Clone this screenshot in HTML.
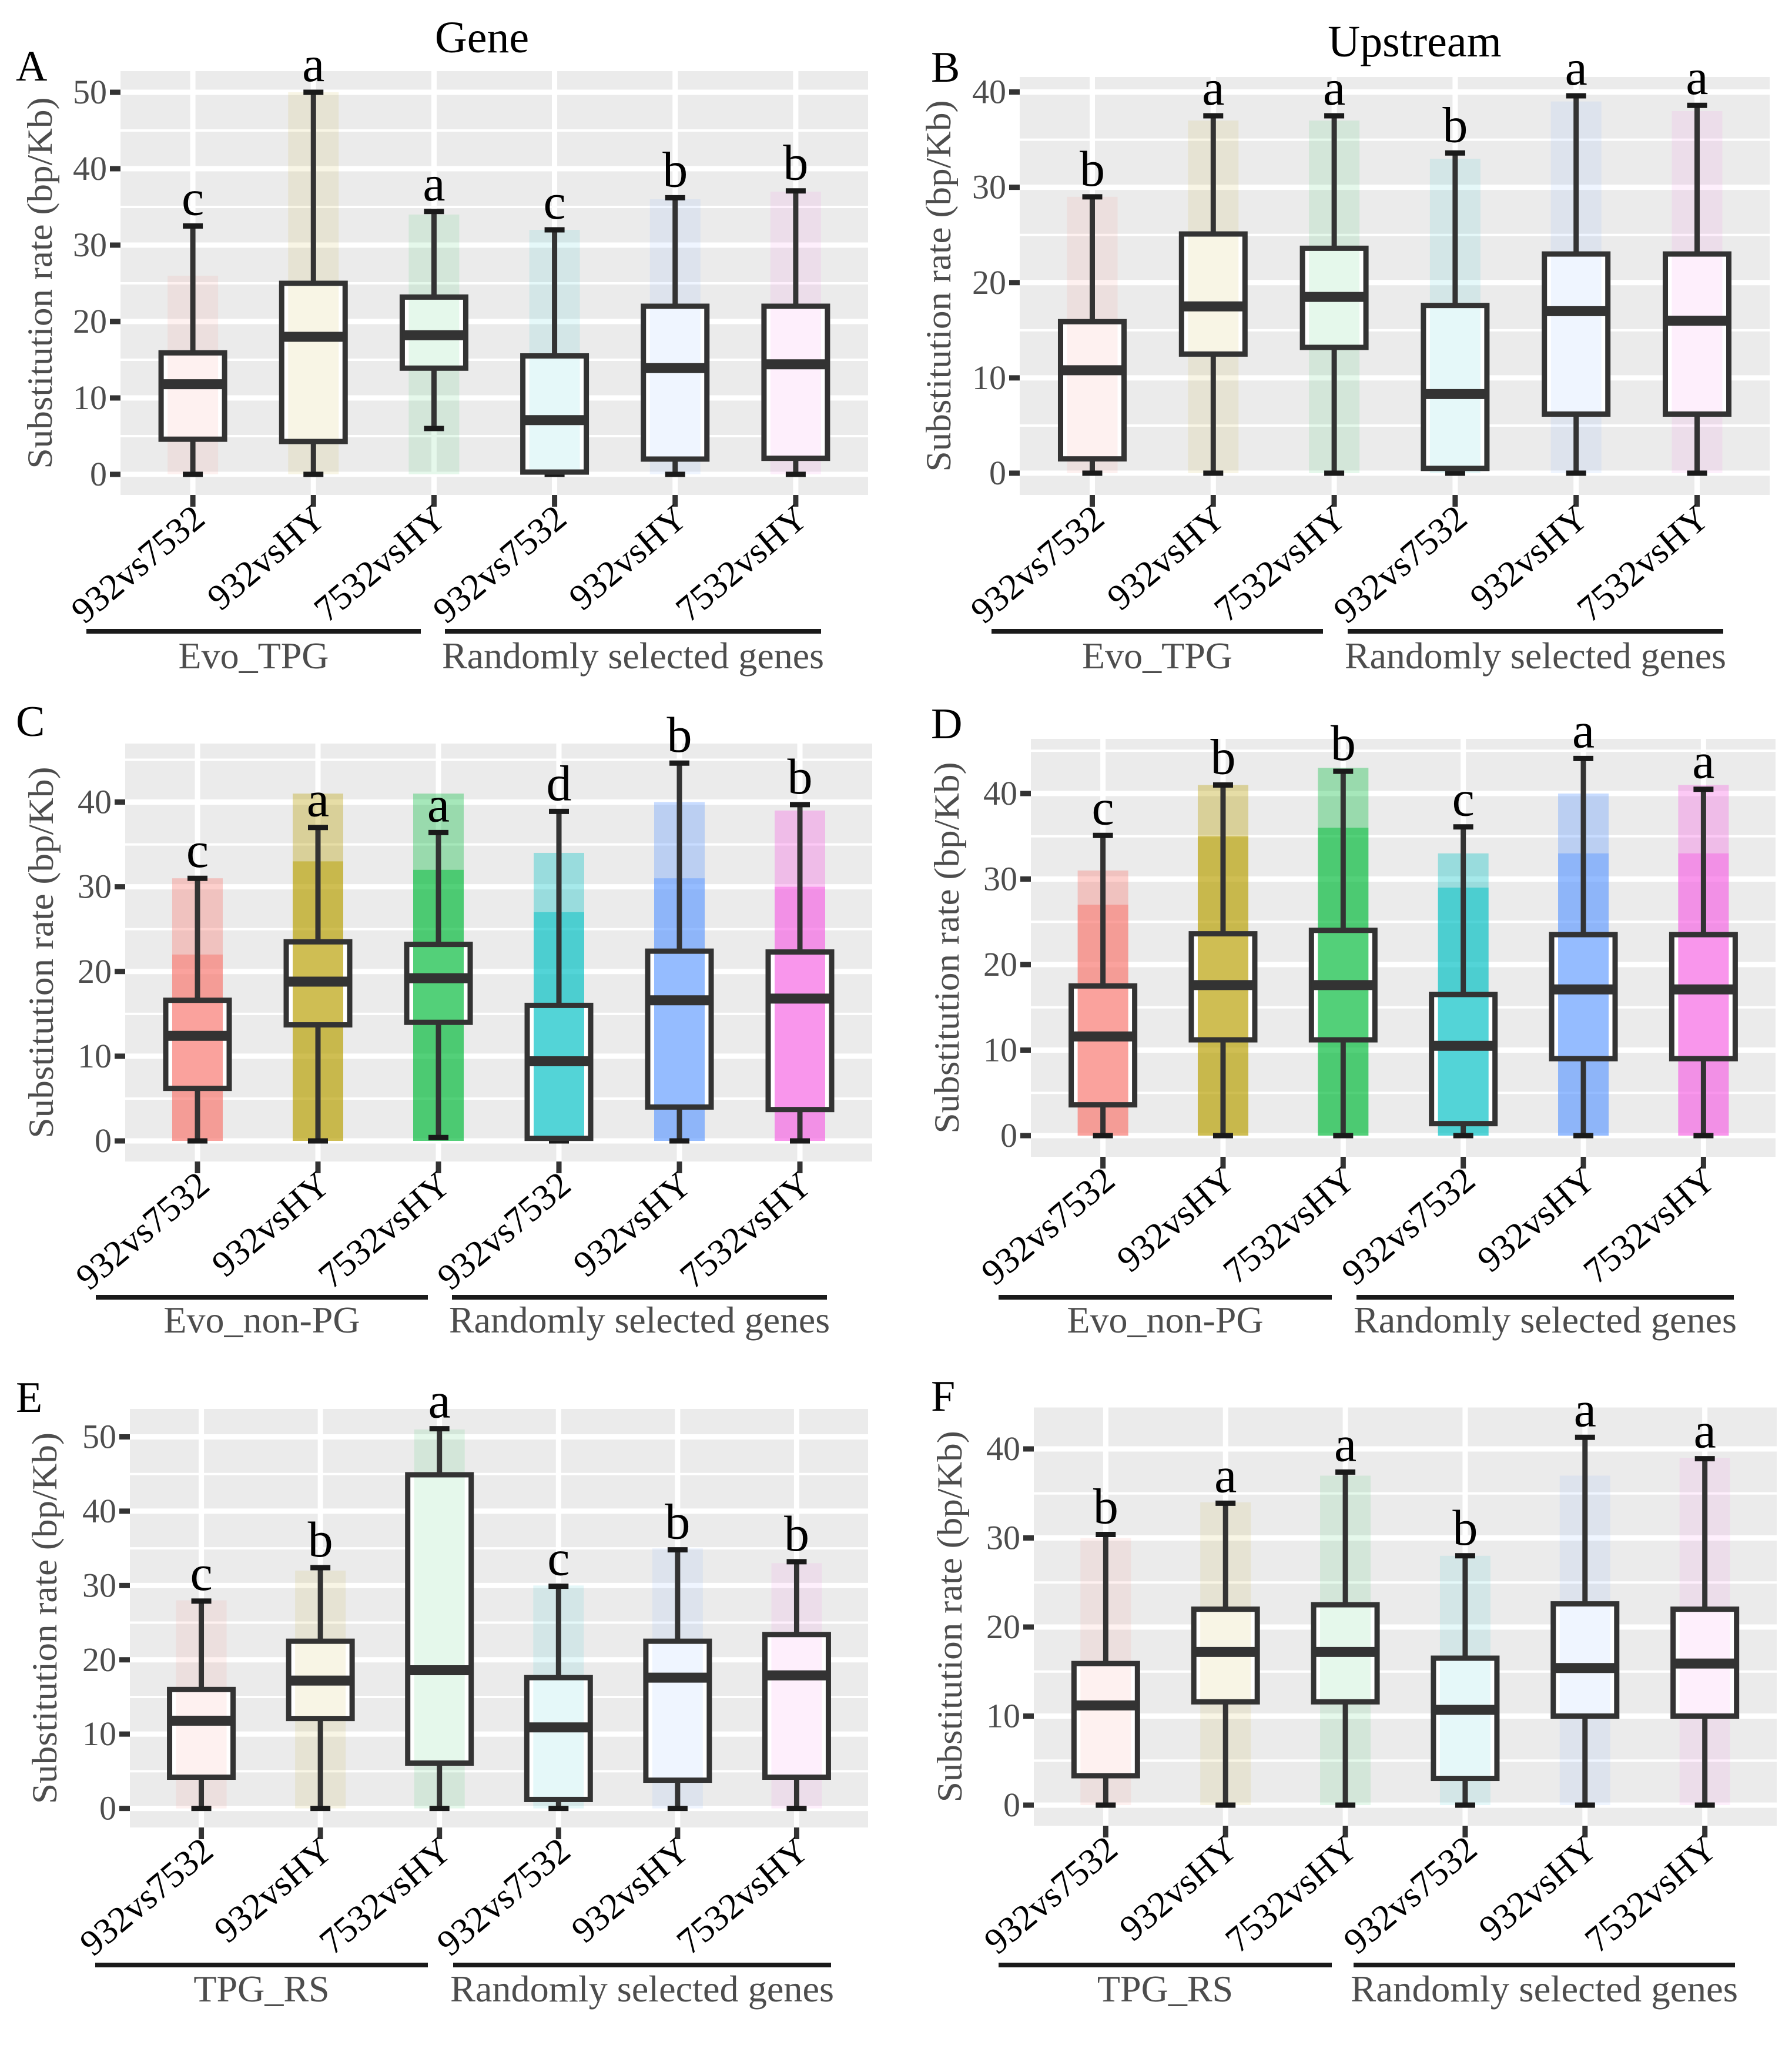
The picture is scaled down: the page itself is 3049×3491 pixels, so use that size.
<!DOCTYPE html>
<html><head><meta charset="utf-8"><style>
html,body{margin:0;padding:0;background:#fff;}
svg{display:block;}
</style></head><body>
<svg id="fig" xmlns="http://www.w3.org/2000/svg" width="3049" height="3491" viewBox="0 0 3049 3491" font-family="'Liberation Serif', serif">
<rect x="0" y="0" width="3049" height="3491" fill="#fff"/>
</svg>
<script>
// ---- data ----
const categories = ["932vs7532","932vsHY","7532vsHY","932vs7532","932vsHY","7532vsHY"];
const A_hi=[32.5,50,34.4,32.0,36.2,37.1], A_q3=[15.9,25.0,23.2,15.5,22.0,22.0], A_med=[11.8,18.0,18.2,7.1,13.9,14.4], A_q1=[4.6,4.3,13.9,0.3,2.0,2.1], A_lo=[0,0,6.0,0,0,0];
const A_letters=["c","a","a","c","b","b"], A_cloud=[26,50,34,32,36,37], A_ticks=[0,10,20,30,40,50];
const B_hi=[29.0,37.5,37.5,33.6,39.6,38.6], B_q3=[15.9,25.1,23.6,17.6,23.0,23.0], B_med=[10.8,17.5,18.5,8.3,17.0,16.0], B_q1=[1.5,12.5,13.2,0.5,6.2,6.2], B_lo=[0,0,0,0,0,0];
const B_letters=["b","a","a","b","a","a"], B_cloud=[29,37,37,33,39,38], B_ticks=[0,10,20,30,40];
const C_hi=[31.0,37.0,36.4,38.9,44.6,39.7], C_q3=[16.6,23.5,23.2,16.0,22.4,22.3], C_med=[12.4,18.8,19.2,9.4,16.6,16.8], C_q1=[6.2,13.7,14.0,0.3,4.0,3.7], C_lo=[0,0,0.4,0,0,0];
const C_letters=["c","a","a","d","b","b"], C_cloud=[31,41,41,34,40,39], C_dense=[22,33,32,27,31,30], C_ticks=[0,10,20,30,40];
const D_hi=[35.1,41.0,42.6,36.1,44.1,40.5], D_q3=[17.5,23.6,24.0,16.5,23.5,23.5], D_med=[11.6,17.6,17.6,10.5,17.1,17.1], D_q1=[3.6,11.2,11.2,1.4,9.0,9.0], D_lo=[0,0,0,0,0,0];
const D_letters=["c","b","b","c","a","a"], D_cloud=[31,41,43,33,40,41], D_dense=[27,35,36,29,33,33], D_ticks=[0,10,20,30,40];
const E_hi=[27.9,32.4,51.1,29.9,34.8,33.2], E_q3=[16.0,22.5,44.9,17.6,22.5,23.4], E_med=[11.8,17.2,18.6,10.9,17.6,17.9], E_q1=[4.2,12.1,6.1,1.2,3.8,4.2], E_lo=[0,0,0,0,0,0];
const E_letters=["c","b","a","c","b","b"], E_cloud=[28,32,51,30,35,33], E_ticks=[0,10,20,30,40,50];
const F_hi=[30.4,33.9,37.4,28.0,41.3,38.9], F_q3=[15.9,22.0,22.5,16.5,22.6,22.0], F_med=[11.2,17.2,17.2,10.7,15.4,15.9], F_q1=[3.3,11.6,11.6,3.0,10.0,10.0], F_lo=[0,0,0,0,0,0];
const F_letters=["b","a","a","b","a","a"], F_cloud=[30,34,37,28,37,39], F_ticks=[0,10,20,30,40];
const colors=["#F8766D","#B79F00","#00BA38","#00BFC4","#619CFF","#F564E3"];

// ---- layout ----
const NS="http://www.w3.org/2000/svg";
const FONT="'Liberation Serif', 'DejaVu Serif', serif";
const svg=document.getElementById('fig');
function mk(tag,attrs,parent,txt){const e=document.createElementNS(NS,tag);for(const k in attrs)e.setAttribute(k,attrs[k]);if(tag==='text')e.setAttribute('font-family',FONT);if(txt!==undefined)e.textContent=txt;(parent||svg).appendChild(e);return e;}

const panels=[
 {id:'A',hi:A_hi,q3:A_q3,med:A_med,q1:A_q1,lo:A_lo,let:A_letters,cloud:A_cloud,dense:null,ticks:A_ticks,
  L:205,R:1477,T:121,B:842,y0:807,yr:157,rv:50,ylx:88,lx:27,ly:137,title:"Gene",tx:820,ty:89,
  gl:[[147,716],[757,1397]],gy:1074,gty:1137,g1:"Evo_TPG"},
 {id:'B',hi:B_hi,q3:B_q3,med:B_med,q1:B_q1,lo:B_lo,let:B_letters,cloud:B_cloud,dense:null,ticks:B_ticks,
  L:1735,R:3011,T:131,B:842,y0:805,yr:156.5,rv:40,ylx:1617,lx:1584,ly:139,title:"Upstream",tx:2407,ty:96,
  gl:[[1687,2251],[2293,2932]],gy:1074,gty:1137,g1:"Evo_TPG"},
 {id:'C',hi:C_hi,q3:C_q3,med:C_med,q1:C_q1,lo:C_lo,let:C_letters,cloud:C_cloud,dense:C_dense,ticks:C_ticks,
  L:213,R:1484,T:1265,B:1976,y0:1941,yr:1364.5,rv:40,ylx:90,lx:27,ly:1252,
  gl:[[163,728],[769,1407]],gy:2207,gty:2267,g1:"Evo_non-PG"},
 {id:'D',hi:D_hi,q3:D_q3,med:D_med,q1:D_q1,lo:D_lo,let:D_letters,cloud:D_cloud,dense:D_dense,ticks:D_ticks,
  L:1754,R:3021,T:1257,B:1968,y0:1932,yr:1350,rv:40,ylx:1631,lx:1584,ly:1256,
  gl:[[1699,2266],[2308,2950]],gy:2207,gty:2267,g1:"Evo_non-PG"},
 {id:'E',hi:E_hi,q3:E_q3,med:E_med,q1:E_q1,lo:E_lo,let:E_letters,cloud:E_cloud,dense:null,ticks:E_ticks,
  L:221,R:1477,T:2397,B:3109,y0:3076.6,yr:2444.5,rv:50,ylx:96,lx:27,ly:2402,
  gl:[[162,728],[771,1414]],gy:3343,gty:3405,g1:"TPG_RS"},
 {id:'F',hi:F_hi,q3:F_q3,med:F_med,q1:F_q1,lo:F_lo,let:F_letters,cloud:F_cloud,dense:null,ticks:F_ticks,
  L:1759,R:3023,T:2394.5,B:3106,y0:3071,yr:2465,rv:40,ylx:1636,lx:1584,ly:2400,
  gl:[[1699,2266],[2303,2952]],gy:3343,gty:3405,g1:"TPG_RS"}
];

panels.forEach(p=>{
  const g=mk('g',{});
  
  
  const step=(p.R-p.L)/6.2;
  const x=i=>p.L+(i+0.6)*step;
  const k=(p.y0-p.yr)/p.rv;
  const y=v=>p.y0-v*k;
  const bg=mk('rect',{x:p.L,y:p.T,width:p.R-p.L,height:p.B-p.T,fill:'#EBEBEB'},g);
  
  
  const tmax=p.ticks[p.ticks.length-1];
  for(let v=p.ticks[0]+5; v<tmax+10; v+=10){
    const yy=y(v); if(yy<p.T||yy>p.B) continue;
    const ln=mk('line',{x1:p.L,x2:p.R,y1:yy,y2:yy,stroke:'#fff','stroke-width':4},g);
    
    
  }
  p.ticks.forEach(v=>{
    const yy=y(v);
    const ln=mk('line',{x1:p.L,x2:p.R,y1:yy,y2:yy,stroke:'#fff','stroke-width':9},g);
    
    
    const tk=mk('line',{x1:p.L-18,x2:p.L,y1:yy,y2:yy,stroke:'#333','stroke-width':9},g);
    
    
    const tl=mk('text',{x:p.L-23,y:yy+19,'text-anchor':'end','font-size':58,fill:'#4d4d4d'},g,String(v));
    
    
  });
  categories.forEach((c,i)=>{
    const cx=x(i);
    const vl=mk('line',{x1:cx,x2:cx,y1:p.T,y2:p.B,stroke:'#fff','stroke-width':9},g);
    
    
    const tk=mk('line',{x1:cx,x2:cx,y1:p.B,y2:p.B+20,stroke:'#333','stroke-width':9},g);
    
    
    const ax=cx+24, ay=p.B+46;
    const tl=mk('text',{x:ax,y:ay,'text-anchor':'end','font-size':62,fill:'#000',transform:`rotate(-40 ${ax} ${ay})`},g,c);
    
    
  });
  const hw=54, cw=43;
  categories.forEach((c,i)=>{
    const cx=x(i), col=colors[i];
    const bx=mk('g',{},g);
    
    
    mk('rect',{x:cx-hw,y:y(p.q3[i]),width:2*hw,height:y(p.q1[i])-y(p.q3[i]),fill:'#fff'},bx);
    if(p.dense){
      const cl=mk('rect',{x:cx-cw,y:y(p.cloud[i]),width:2*cw,height:y(0)-y(p.cloud[i]),fill:col,'fill-opacity':0.35},bx);
      
      
      const dn=mk('rect',{x:cx-cw,y:y(p.dense[i]),width:2*cw,height:y(0)-y(p.dense[i]),fill:col,'fill-opacity':0.5},bx);
      
      
    } else {
      const cl=mk('rect',{x:cx-cw,y:y(p.cloud[i]),width:2*cw,height:y(0)-y(p.cloud[i]),fill:col,'fill-opacity':0.1},bx);
      
      
    }
    const w1=mk('line',{x1:cx,x2:cx,y1:y(p.hi[i]),y2:y(p.q3[i]),stroke:'#333','stroke-width':9},bx);
    
    
    const w2=mk('line',{x1:cx,x2:cx,y1:y(p.q1[i]),y2:y(p.lo[i]),stroke:'#333','stroke-width':9},bx);
    
    
    const c1=mk('line',{x1:cx-17,x2:cx+17,y1:y(p.hi[i]),y2:y(p.hi[i]),stroke:'#1a1a1a','stroke-width':9},bx);
    
    
    const c2=mk('line',{x1:cx-17,x2:cx+17,y1:y(p.lo[i]),y2:y(p.lo[i]),stroke:'#1a1a1a','stroke-width':9},bx);
    
    
    const r=mk('rect',{x:cx-hw,y:y(p.q3[i]),width:2*hw,height:y(p.q1[i])-y(p.q3[i]),fill:'none',stroke:'#333','stroke-width':9},bx);
    
    
    const m=mk('line',{x1:cx-hw,x2:cx+hw,y1:y(p.med[i]),y2:y(p.med[i]),stroke:'#333','stroke-width':17},bx);
    
    
    const lt=mk('text',{x:cx,y:y(p.hi[i])-19,'text-anchor':'middle','font-size':86,fill:'#000'},g,p.let[i]);
    
    
  });
  const cy=(p.T+p.B)/2;
  const yl=mk('text',{x:p.ylx,y:cy,'text-anchor':'middle','font-size':60,fill:'#4d4d4d',transform:`rotate(-90 ${p.ylx} ${cy})`,textLength:632,lengthAdjust:'spacingAndGlyphs'},g,"Substitution rate (bp/Kb)");
  
  
  const pl=mk('text',{x:p.lx,y:p.ly,'font-size':74,fill:'#000'},g,p.id);
  
  
  if(p.title){
    const t=mk('text',{x:p.tx,y:p.ty,'text-anchor':'middle','font-size':76,fill:'#000'},g,p.title);
    
    
  }
  const names=[p.g1,"Randomly selected genes"];
  p.gl.forEach((s,j)=>{
    const ln=mk('line',{x1:s[0],x2:s[1],y1:p.gy,y2:p.gy,stroke:'#1a1a1a','stroke-width':8},g);
    
    
    const attrs={x:(s[0]+s[1])/2,y:p.gty,'text-anchor':'middle','font-size':64,fill:'#4d4d4d'};
    if(j===1){attrs.textLength=s[1]-s[0]+10;attrs.lengthAdjust='spacingAndGlyphs';}
    const tl=mk('text',attrs,g,names[j]);
    
    
  });
});
</script>
</body></html>
